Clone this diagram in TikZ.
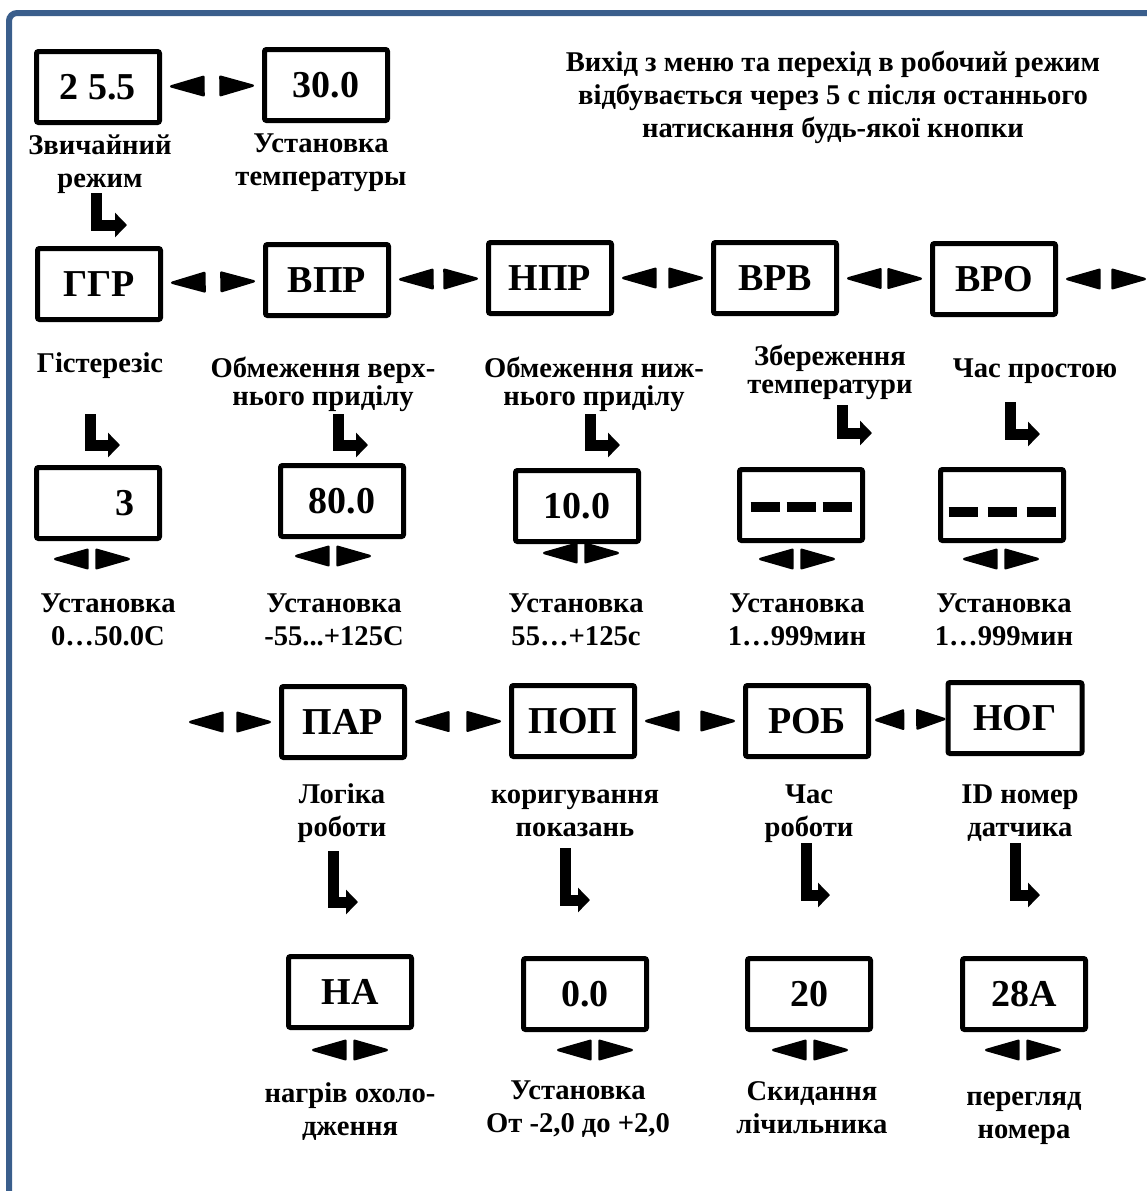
\documentclass[tikz,border=0pt]{standalone}
\usepackage{fontspec}
\setmainfont{Liberation Serif}
\usetikzlibrary{arrows.meta}
\definecolor{framecol}{RGB}{58,94,140}
\newcommand\dashrow[2]{\raisebox{#1}[0pt][0pt]{\rule{14.5pt}{5pt}\hspace{#2}\rule{14.5pt}{5pt}\hspace{#2}\rule{14.5pt}{5pt}}}
\tikzset{
  disp/.style={draw, line width=2.5pt, rounded corners=1pt, minimum width=61.5pt, minimum height=35.5pt, inner sep=0pt, font=\fontsize{19}{19}\selectfont\bfseries},
  lbl/.style={align=center, inner sep=0pt, anchor=base, font=\fontsize{14.3}{16.5}\selectfont\bfseries},
  tight/.style={font=\fontsize{14.3}{14}\selectfont\bfseries},
  lr/.style={white, line width=0.1pt, shorten <=4pt, shorten >=4pt, {Triangle[color=black, length=19pt, width=10.5pt, round, line width=1.2pt]}-{Triangle[color=black, length=19pt, width=10.5pt, round, line width=1.2pt]}},
  lrshort/.style={white, line width=0.1pt, shorten <=2pt, {Triangle[color=black, length=16pt, width=10.5pt, round, line width=1.2pt]}-{Triangle[color=black, length=16pt, width=10.5pt, round, line width=1.2pt]}},
  pair/.style={lr, shorten <=0pt, shorten >=0pt},
  turn/.style={line width=5.5pt, line join=miter, -{Triangle[length=6pt, width=12pt]}}
}
\begin{document}
\begin{tikzpicture}[x=0.5pt, y=-0.5pt]
\useasboundingbox (0,0) rectangle (1147,1191);
\draw[framecol, line width=3pt, rounded corners=4pt] (9,1196) |- (1152,13);

\node[disp] (b255) at (98,87) {2 5.5};
\node[disp] (b300) at (326,85) {30.0};
\node[lbl] (l255) at (100,187) {Звичайний\\режим};
\node[lbl] (l300) at (321,185) {Установка\\температуры};
\node[lbl] (title) at (833,137) {Вихід з меню та перехід в робочий режим\\відбувається через 5 с після останнього\\натискання будь-якої кнопки};

\node[disp] (ggr) at (99,284) {ГГР};
\node[disp] (vpr) at (327,280) {ВПР};
\node[disp] (npr) at (550,278) {НПР};
\node[disp] (vrv) at (775,278) {ВРВ};
\node[disp] (vro) at (994,279) {ВРО};
\coordinate (vroend) at (1146,279);
\node[lbl] (lggr) at (100,372) {Гістерезіс};
\node[lbl, tight] (lvpr) at (323,405) {Обмеження верх-\\нього приділу};
\node[lbl, tight] (lnpr) at (594,405) {Обмеження ниж-\\нього приділу};
\node[lbl, tight] (lvrv) at (830,393) {Збереження\\температури};
\node[lbl] (lvro) at (1035,377) {Час простою};

\node[disp, text width=37pt, align=right] (v3) at (98,503) {3};
\node[disp] (v80) at (342,501) {80.0};
\node[disp] (v10) at (577,506) {10.0};
\node[disp] (vd1) at (801,505) {\dashrow{-3.5pt}{3.5pt}};
\node[disp] (vd2) at (1002,505) {\dashrow{-6pt}{5pt}};
\node[lbl] (l3) at (108,645) {Установка\\0…50.0С};
\node[lbl] (l80) at (334,645) {Установка\\-55...+125С};
\node[lbl] (l10) at (576,645) {Установка\\55…+125с};
\node[lbl] (ld1) at (797,645) {Установка\\1…999мин};
\node[lbl] (ld2) at (1004,645) {Установка\\1…999мин};

\coordinate (parstart) at (181,722);
\node[disp] (par) at (343,722) {ПАР};
\node[disp] (pop) at (573,721) {ПОП};
\node[disp] (rob) at (807,721) {РОБ};
\node[disp, minimum width=67pt] (nog) at (1015,718) {НОГ};
\node[lbl] (lpar) at (342,836) {Логіка\\роботи};
\node[lbl] (lpop) at (575,836) {коригування\\показань};
\node[lbl] (lrob) at (809,836) {Час\\роботи};
\node[lbl] (lnog) at (1020,836) {ID номер\\датчика};

\node[disp] (vha) at (350,992) {НА};
\node[disp] (v00) at (585,994) {0.0};
\node[disp] (v20) at (809,994) {20};
\node[disp] (v28a) at (1024,994) {28А};
\node[lbl] (lha) at (350,1135) {нагрів охоло-\\дження};
\node[lbl] (l00) at (578,1132) {Установка\\От -2,0 до +2,0};
\node[lbl] (l20) at (812,1133) {Скидання\\лічильника};
\node[lbl] (l28a) at (1024,1138) {перегляд\\номера};

\draw[lr] (b255) -- (b300);
\draw[lr] (ggr) -- (vpr);
\draw[lr] (vpr) -- (npr);
\draw[lr] (npr) -- (vrv);
\draw[lr] (vrv) -- (vro);
\draw[lr, shorten >=0pt] (vro) -- (vroend);
\draw[lr] (parstart) -- (par);
\draw[lr] (par) -- (pop);
\draw[lr] (pop) -- (rob);
\draw[lrshort] (rob) -- (nog);

\coordinate (p3) at (92,559);
\coordinate (p80) at (333,556);
\coordinate (p10) at (581,553);
\coordinate (pd1) at (797,559);
\coordinate (pd2) at (1001,559);
\coordinate (pha) at (350,1050);
\coordinate (p00) at (595,1050);
\coordinate (p20) at (810,1050);
\coordinate (p28a) at (1023,1050);
\foreach \p in {p3,p80,p10,pd1,pd2,pha,p00,p20,p28a}
  \draw[pair] ([xshift=-19pt]\p) -- ([xshift=19pt]\p);

\coordinate (t255) at (96,193);
\coordinate (tggr) at (90,414);
\coordinate (tvpr) at (338,414);
\coordinate (tnpr) at (590,414);
\coordinate (tvrv) at (842,405);
\coordinate (tvro) at (1010,402);
\coordinate (tpar) at (333,851);
\coordinate (tpop) at (565,848);
\coordinate (trob) at (806,843);
\coordinate (tnog) at (1015,843);
\draw[turn] (t255) |- ++(31,32);
\draw[turn] (tggr) |- ++(30,31);
\draw[turn] (tvpr) |- ++(30,31);
\draw[turn] (tnpr) |- ++(30,31);
\draw[turn] (tvrv) |- ++(30,28);
\draw[turn] (tvro) |- ++(30,32);
\draw[turn] (tpar) |- ++(25,51);
\draw[turn] (tpop) |- ++(25,52);
\draw[turn] (trob) |- ++(24,52);
\draw[turn] (tnog) |- ++(25,52);
\end{tikzpicture}
\end{document}
